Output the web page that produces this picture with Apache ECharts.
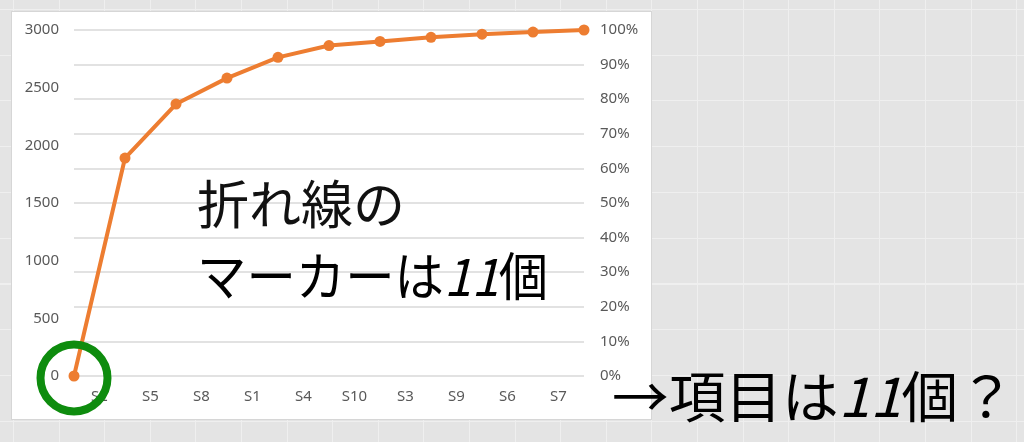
<!DOCTYPE html>
<html>
<head>
<meta charset="utf-8">
<script src="https://cdn.jsdelivr.net/npm/echarts@6/dist/echarts.min.js"></script>
<style>
  html, body { margin: 0; padding: 0; }
  body {
    width: 1024px; height: 442px; overflow: hidden; position: relative;
    background-color: #e4e4e4;
    background-image:
      repeating-linear-gradient(to right, #efefef 0 1px, transparent 1px 45.6px),
      repeating-linear-gradient(to bottom, #efefef 0 1px, transparent 1px 45.75px);
    background-position: 13px 0, 0 9px;
  }
  #panel {
    position: absolute; left: 11px; top: 11px; width: 639px; height: 407px;
    background: #fff; border: 1px solid #d6d6d6;
  }
  #main { position: absolute; left: 0; top: 0; width: 1024px; height: 442px; }
</style>
</head>
<body>
<div id="panel"></div>
<div id="main"></div>
<script>
// 項目（横軸ラベル）
var categories = ['S2', 'S5', 'S8', 'S1', 'S4', 'S10', 'S3', 'S9', 'S6', 'S7'];
// 折れ線の点（11個）用の第2横軸
var lineSlots = ['', 'S2', 'S5', 'S8', 'S1', 'S4', 'S10', 'S3', 'S9', 'S6', 'S7'];
// 累積比率
var cumRatio = [0, 0.630, 0.786, 0.861, 0.921, 0.955, 0.967, 0.979, 0.988, 0.994, 1.0];
// 目盛
var leftMin = 0, leftMax = 3000, leftStep = 500;
var rightMin = 0, rightMax = 1, rightStep = 0.1;

var labelColor = '#595959';
var jpFont = '"Noto Sans CJK JP", sans-serif';

var myChart = echarts.init(document.getElementById('main'));
myChart.setOption({
    animation: false,
    grid: { left: 74, right: 440, top: 30, bottom: 66 },
    xAxis: [
        {
            type: 'category',
            data: categories,
            boundaryGap: true,
            axisLine: { show: false },
            axisTick: { show: false },
            axisLabel: { color: labelColor, fontSize: 15, fontFamily: 'Noto Sans', margin: 13, interval: 0 }
        },
        {
            type: 'category',
            data: lineSlots,
            boundaryGap: false,
            show: false
        }
    ],
    yAxis: [
        {
            type: 'value',
            min: leftMin, max: leftMax, interval: leftStep,
            axisLine: { show: false },
            axisTick: { show: false },
            splitLine: { show: false },
            axisLabel: {
                color: labelColor, fontSize: 15, fontFamily: 'Noto Sans', margin: 15,
                formatter: function (v) { return String(v); }
            }
        },
        {
            type: 'value',
            position: 'right',
            min: rightMin, max: rightMax, interval: rightStep,
            axisLine: { show: false },
            axisTick: { show: false },
            splitLine: { show: true, lineStyle: { color: '#d9d9d9', width: 1.5 } },
            axisLabel: {
                color: labelColor, fontSize: 15, fontFamily: 'Noto Sans', margin: 16,
                formatter: function (v) { return Math.round(v * 100) + '%'; }
            }
        }
    ],
    series: [
        {
            name: '累積比率',
            type: 'line',
            xAxisIndex: 1,
            yAxisIndex: 1,
            data: cumRatio,
            symbol: 'circle',
            symbolSize: 11,
            itemStyle: { color: '#ed7d31' },
            lineStyle: { color: '#ed7d31', width: 4 },
            markPoint: {
                symbol: 'circle',
                symbolSize: 67,
                symbolOffset: [0, 2],
                silent: true,
                label: { show: false },
                itemStyle: { color: 'rgba(0,0,0,0)', borderColor: '#0e8c0e', borderWidth: 8 },
                data: [{ coord: [0, 0] }]
            }
        }
    ],
    graphic: [
        {
            type: 'text', x: 197, y: 178, z: 10,
            style: { text: '折れ線の', font: '52px ' + jpFont, fill: '#111' }
        },
        {
            type: 'text', x: 197, y: 250, scaleX: 0.95, z: 10,
            style: {
                text: '{n|マーカーは}{i|11}{n|個}',
                rich: {
                    n: { fontSize: 52, fontFamily: jpFont, color: '#111' },
                    i: { fontSize: 52, fontFamily: jpFont, fontStyle: 'italic', color: '#111' }
                }
            }
        },
        {
            type: 'text', x: 612, y: 369, scaleX: 1.03, z: 10,
            style: {
                text: '{n|→項目は}{i|11}{n|個？}',
                rich: {
                    n: { fontSize: 55, fontFamily: jpFont, color: '#111' },
                    i: { fontSize: 55, fontFamily: jpFont, fontStyle: 'italic', color: '#111' }
                }
            }
        }
    ]
});
</script>
</body>
</html>
